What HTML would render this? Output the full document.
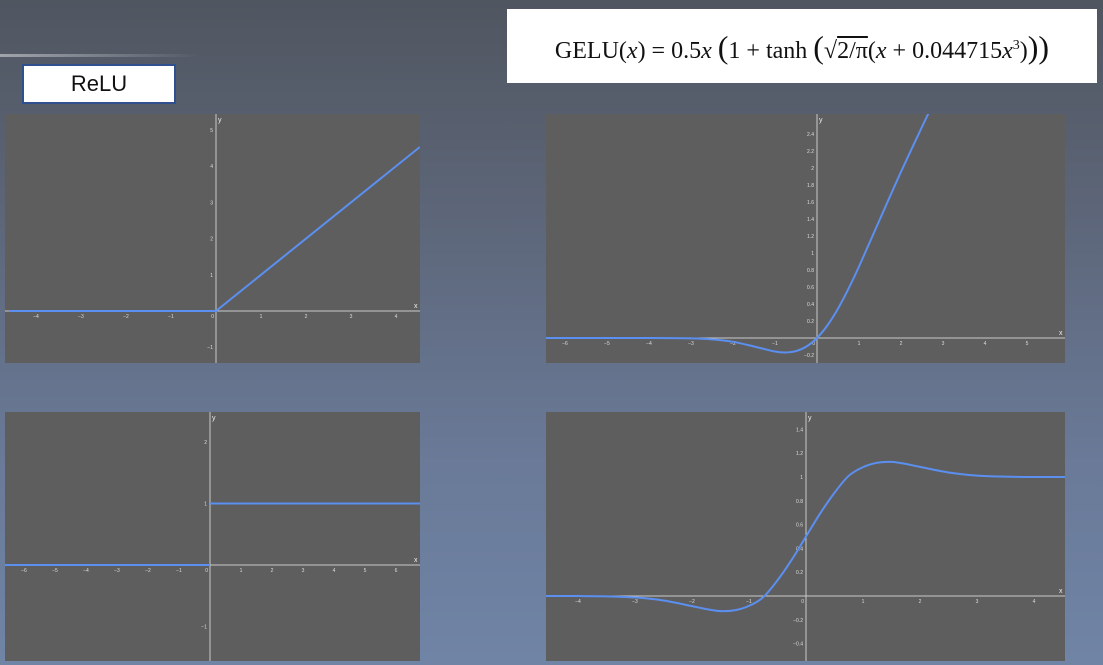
<!DOCTYPE html>
<html><head><meta charset="utf-8">
<style>
html,body{margin:0;padding:0;}
body{width:1103px;height:665px;overflow:hidden;position:relative;background:linear-gradient(180deg,#505660 0%,#5c6577 30%,#6a7a98 70%,#7084a6 100%);font-family:"Liberation Sans",sans-serif;}
#rule{position:absolute;left:0;top:54px;width:200px;height:3px;background:linear-gradient(90deg,#a0a4ab,rgba(160,164,171,0));}
#relu{position:absolute;left:22px;top:64px;width:150px;height:36px;background:#fff;border:2px solid #2f4f8f;font-size:22px;color:#111;text-align:center;line-height:36px;}
#formula{position:absolute;left:507px;top:9px;width:590px;height:74px;background:#fff;font-family:"Liberation Serif",serif;font-size:24px;color:#111;line-height:74px;text-align:center;white-space:nowrap;}
svg{position:absolute;left:0;top:0;}
</style></head><body>
<div id="rule"></div>
<div id="relu">ReLU</div>
<div id="formula">GELU(<i>x</i>) = 0.5<i>x</i> <span style="font-size:32px">(</span>1 + tanh <span style="font-size:32px">(</span>√<span style="text-decoration:overline">2/π</span>(<i>x</i> + 0.044715<i>x</i><sup style="font-size:14px">3</sup>)<span style="font-size:32px">))</span></div>
<svg id="chart" width="1103" height="665"></svg>
<script>
// ReLU
const reluX = [-4.6, 0, 4.53];
const reluY = [0, 0, 4.53];
// GELU
const geluX = [-6.6,-5,-4,-3,-2.5,-2,-1.5,-1,-0.75,-0.5,-0.25,0,0.25,0.5,0.75,1,1.5,2,2.5,2.75];
const geluY = [0,0,-0.0001,-0.004,-0.016,-0.045,-0.100,-0.159,-0.170,-0.154,-0.100,0,0.150,0.346,0.580,0.841,1.400,1.955,2.484,2.74];
// ReLU derivative (step)
const stepX = [-6.9, 0, 0, 6.8];
const stepY = [0, 0, 1, 1];
// GELU derivative
const dgeluX = [-4.6,-4,-3.5,-3,-2.5,-2,-1.75,-1.5,-1.25,-1,-0.75,-0.5,-0.25,0,0.25,0.5,0.75,1,1.25,1.5,1.75,2,2.5,3,3.5,4,4.7];
const dgeluY = [0,-0.0005,-0.003,-0.012,-0.038,-0.085,-0.110,-0.127,-0.120,-0.083,-0.010,0.132,0.305,0.5,0.695,0.868,1.010,1.083,1.120,1.127,1.110,1.085,1.038,1.012,1.003,1.0,1.0];
// tick labels
const ticksTLx = [-4,-3,-2,-1,1,2,3,4];
const ticksTLy = [-1,1,2,3,4,5];
const ticksTRx = [-6,-5,-4,-3,-2,-1,1,2,3,4,5];
const ticksTRy = [-0.2,0.2,0.4,0.6,0.8,1,1.2,1.4,1.6,1.8,2,2.2,2.4];
const ticksBLx = [-6,-5,-4,-3,-2,-1,1,2,3,4,5,6];
const ticksBLy = [-1,1,2];
const ticksBRx = [-4,-3,-2,-1,1,2,3,4];
const ticksBRy = [-0.4,-0.2,0.2,0.4,0.6,0.8,1,1.2,1.4];

const NS = "http://www.w3.org/2000/svg";
const svg = document.getElementById('chart');
function mk(tag, attrs, parent){const e=document.createElementNS(NS,tag);for(const k in attrs)e.setAttribute(k,attrs[k]);(parent||svg).appendChild(e);return e;}

function panel(id, box, ox, oy, sx, sy, xs, ys, tx, ty, smooth){
  const g = mk('g', {});
  
  
  const [x0,y0,x1,y1] = box;
  const bg = mk('rect', {x:x0,y:y0,width:x1-x0,height:y1-y0,fill:'#5e5e5e'}, g);
  
  
  const X = v => ox + v*sx, Y = v => oy - v*sy;
  const cp = mk('clipPath', {id:'c'+id}, g);
  mk('rect', {x:x0,y:y0,width:x1-x0,height:y1-y0}, cp);
  const xa = mk('line', {x1:x0,y1:oy,x2:x1,y2:oy,stroke:'#c9c9c9','stroke-width':1}, g);
  
  
  const ya = mk('line', {x1:ox,y1:y0,x2:ox,y2:y1,stroke:'#c9c9c9','stroke-width':1}, g);
  
  
  const xl = mk('text', {x:x1-6,y:oy-3,fill:'#eee','font-size':7}, g); xl.textContent='x';
  
  
  const yl = mk('text', {x:ox+2,y:y0+8,fill:'#eee','font-size':7}, g); yl.textContent='y';
  
  
  const o = mk('text', {x:ox-2,y:oy+7,fill:'#ddd','font-size':5,'text-anchor':'end'}, g); o.textContent='0';
  
  
  tx.forEach(v=>{
    const t = mk('text', {x:X(v),y:oy+7,fill:'#ddd','font-size':5,'text-anchor':'middle'}, g);
    t.textContent = v<0 ? '−'+(-v) : String(v);
    
    
  });
  ty.forEach(v=>{
    const t = mk('text', {x:ox-3,y:Y(v)+2,fill:'#ddd','font-size':5,'text-anchor':'end'}, g);
    t.textContent = v<0 ? '−'+(-v) : String(v);
    
    
  });
  const pts = xs.map((v,i)=>[X(v),Y(ys[i])]);
  let d = 'M'+pts[0][0]+','+pts[0][1];
  if(smooth){
    for(let i=0;i<pts.length-1;i++){
      const p0=pts[Math.max(0,i-1)],p1=pts[i],p2=pts[i+1],p3=pts[Math.min(pts.length-1,i+2)];
      const c1=[p1[0]+(p2[0]-p0[0])/6,p1[1]+(p2[1]-p0[1])/6];
      const c2=[p2[0]-(p3[0]-p1[0])/6,p2[1]-(p3[1]-p1[1])/6];
      d+=' C'+c1+' '+c2+' '+p2;
    }
  } else {
    for(let i=1;i<pts.length;i++){ if(xs[i]===xs[i-1]) d+=' M'+pts[i]; else d+=' L'+pts[i]; }
  }
  const path = mk('path', {d:d,fill:'none',stroke:'#5b8ff0','stroke-width':2,'clip-path':'url(#c'+id+')'}, g);
  
  
}
panel('relu', [5,114,420,363], 216, 311, 45, 36.2, reluX, reluY, ticksTLx, ticksTLy, false);
panel('gelu', [546,114,1065,363], 817, 338, 42, 85, geluX, geluY, ticksTRx, ticksTRy, true);
panel('relu-derivative', [5,412,420,661], 210, 565, 31, 61.5, stepX, stepY, ticksBLx, ticksBLy, false);
panel('gelu-derivative', [546,412,1065,661], 806, 596, 57, 119, dgeluX, dgeluY, ticksBRx, ticksBRy, true);
</script>
</body></html>
